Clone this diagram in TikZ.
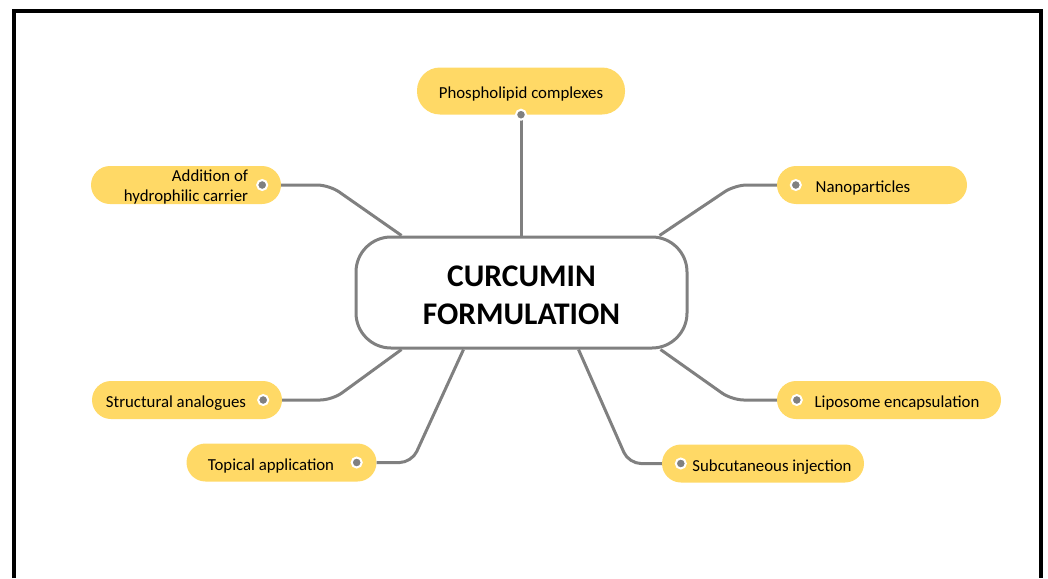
\documentclass[tikz,border=0pt]{standalone}
\usepackage{fontspec}
\setmainfont{Carlito}
\usetikzlibrary{positioning}
\definecolor{curyellow}{RGB}{255,217,102}
\definecolor{linegray}{RGB}{128,128,128}

\begin{document}
\begin{tikzpicture}[x=1pt,y=-1pt,
  pill/.style={fill=curyellow, rounded corners=19, minimum width=190, minimum height=38, inner xsep=0, inner ysep=0, text height=16, text depth=1, font=\fontsize{16.8}{20}\selectfont},
  hub/.style={draw=linegray, line width=3, rounded corners=35, minimum width=331, minimum height=111, align=center, text height=64, text depth=0, font=\fontsize{31.5}{38}\selectfont\bfseries},
  knob/.style={circle, fill=linegray, draw=white, line width=2, inner sep=0, minimum size=10},
  link/.style={draw=linegray, line width=3, rounded corners=12}]
% Frame
\useasboundingbox (0,0) rectangle (1048,578);
\draw[line width=4] (14,578) -- (14,11) -- (1040.5,11) -- (1040.5,578);

% Centre
\node[hub] (hub) at (521.5,292.5) {CURCUMIN\\FORMULATION};

% Branches
\node[pill, minimum width=208, minimum height=47, rounded corners=23] (phos) at (521,91) {Phospholipid complexes};
\node[pill] (nano) at (872,185) {Nanoparticles\hspace*{18pt}};
\node[pill, align=right, text height=33.5, text depth=1] (carrier) at (186,185) {Addition of\\hydrophilic carrier};
\node[pill] (analog) at (187,400) {Structural analogues\hspace*{22pt}};
\node[pill] (topical) at (281.5,462.5) {Topical application\hspace*{21pt}};
\node[pill, minimum width=224] (lipo) at (889,400) {\hspace*{16pt}Liposome encapsulation};
\node[pill, minimum width=202] (subcut) at (763,463.5) {\hspace*{18pt}Subcutaneous injection};

% Links
\draw[link] (phos.south) -- (phos.south |- hub.north);
\draw[link] (nano.west) -- ([xshift=-42]nano.west) -- ([xshift=138]hub.north);
\draw[link] (carrier.east) -- ([xshift=48]carrier.east) -- ([xshift=-120]hub.north);
\draw[link] (analog.east) -- ([xshift=50]analog.east) -- ([xshift=-120]hub.south);
\draw[link] (topical.east) -- ([xshift=35]topical.east) -- ([xshift=-58]hub.south);
\draw[link] (lipo.west) -- ([xshift=-45]lipo.west) -- ([xshift=139]hub.south);
\draw[link] (subcut.west) -- ([xshift=-33]subcut.west) -- ([xshift=57]hub.south);

% Knobs
\node[knob] (phosknob) at (phos.south) {};
\node[knob] (nanoknob) at ([xshift=19]nano.west) {};
\node[knob] (carrierknob) at ([xshift=-19]carrier.east) {};
\node[knob] (analogknob) at ([xshift=-19]analog.east) {};
\node[knob] (topicalknob) at ([xshift=-20]topical.east) {};
\node[knob] (lipoknob) at ([xshift=20]lipo.west) {};
\node[knob] (subcutknob) at ([xshift=19]subcut.west) {};
\end{tikzpicture}
\end{document}
